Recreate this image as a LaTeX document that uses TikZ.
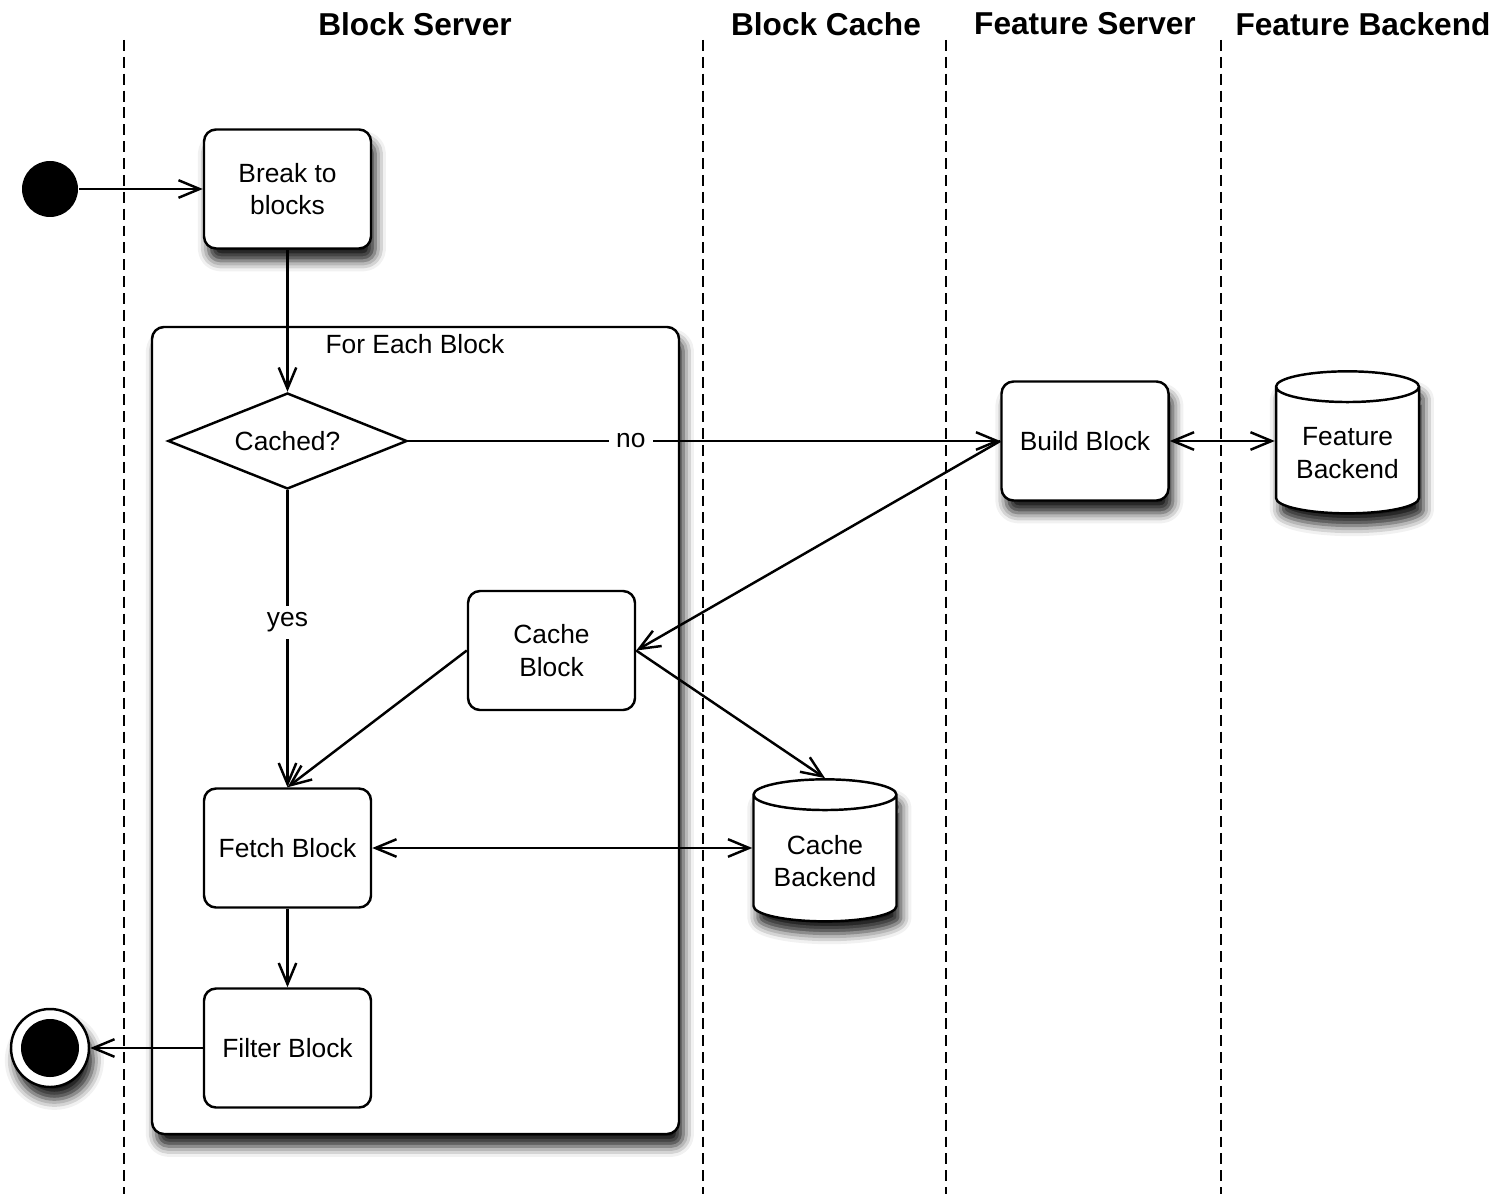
\documentclass[tikz,border=0pt]{standalone}
\usepackage{fontspec}
\setmainfont{Liberation Sans}
\usetikzlibrary{arrows.meta,shapes.geometric,shadows.blur}
\tikzset{% change default arrow tips
    >={Straight Barb[length=12pt,width=10pt]}
}

\begin{document}
\begin{tikzpicture}[x=0.2mm, y=-0.2mm, line width=1.4pt,
        font=\fontsize{15pt}{18.5pt}\selectfont,
        dropshade/.style={blur shadow={shadow xshift=2.5pt, shadow yshift=-7pt, shadow blur radius=6pt, shadow opacity=90}},
        activity/.style={draw, fill=white, rounded corners=0.24cm, align=center, minimum width=3.34cm, minimum height=2.38cm, inner sep=2pt},
        store/.style={draw, fill=white, cylinder, shape border rotate=90, aspect=0.28, align=center, minimum width=2.86cm, minimum height=2.84cm, inner sep=2pt, dropshade},
        lane/.style={dash pattern=on 6.2pt off 3.4pt, line width=1.3pt},
        lanetitle/.style={font=\fontsize{18pt}{22pt}\selectfont\bfseries},
        flowtag/.style={fill=white, inner sep=4pt}]
        \newcommand{\lanetop}{40}
        \newcommand{\lanebot}{1194}

        \useasboundingbox (0,0) rectangle (1512,1194);

        % loop region
        \node[draw, fill=white, rounded corners=0.24cm, minimum width=10.54cm, minimum height=16.14cm, dropshade] (foreach) at (415.5,730.5) {};
        \node (foreachtag) at (415,344) {For Each Block};

        % swimlanes
        \draw[lane] (124,\lanetop) -- (124,\lanebot);
        \draw[lane] (703,\lanetop) -- (703,\lanebot);
        \draw[lane] (946,\lanetop) -- (946,\lanebot);
        \draw[lane] (1221,\lanetop) -- (1221,\lanebot);

        \node[lanetitle] (tBlockServer) at (415,24) {Block Server};
        \node[lanetitle] (tBlockCache) at (826,24) {Block Cache};
        \node[lanetitle] (tFeatureServer) at (1085,24) {Feature Server};
        \node[lanetitle] (tFeatureBackend) at (1363,24) {Feature Backend};

        % start and end
        \node[circle, fill=black, minimum size=1.12cm, inner sep=0] (start) at (50,189) {};
        \node[circle, draw, fill=white, minimum size=1.56cm, inner sep=0, dropshade] (stop) at (50,1048) {};
        \node[circle, fill=black, minimum size=1.16cm, inner sep=0] (stopdot) at (stop) {};

        % activities
        \node[activity, dropshade] (break) at (287.5,189) {Break to\\blocks};
        \node[diamond, draw, fill=white, aspect=2.5, minimum width=4.78cm, minimum height=1.92cm, inner sep=0] (cached) at (287.5,441) {Cached?};
        \node[activity, dropshade] (build) at (1085,441) {Build Block};
        \node[store] (featbe) at (1347.5,453) {Feature\\Backend};
        \node[activity] (cacheblk) at (551.5,650.5) {Cache\\Block};
        \node[activity] (fetch) at (287.5,848) {Fetch Block};
        \node[store] (cachebe) at (825,861) {Cache\\Backend};
        \node[activity] (filter) at (287.5,1048) {Filter Block};

        % flows
        \draw[->] (start) -- (break);
        \draw[->] (break) -- (cached);
        \draw[->] (cached) -- (build) node[pos=.376, flowtag] {no};
        \draw[->] (cached) -- (fetch) node[pos=.445, flowtag] {yes};
        \draw[->] (build.west) -- (cacheblk.east);
        \draw[->] (cacheblk.west) -- (fetch.north);
        \draw[->] (cacheblk.east) -- (cachebe.north);
        \draw[<->] (fetch.east) -- (cachebe.west |- fetch.east);
        \draw[->] (fetch) -- (filter);
        \draw[->] (filter) -- (stop);
        \draw[<->] (build.east) -- (featbe.west |- build.east);
\end{tikzpicture}
\end{document}
